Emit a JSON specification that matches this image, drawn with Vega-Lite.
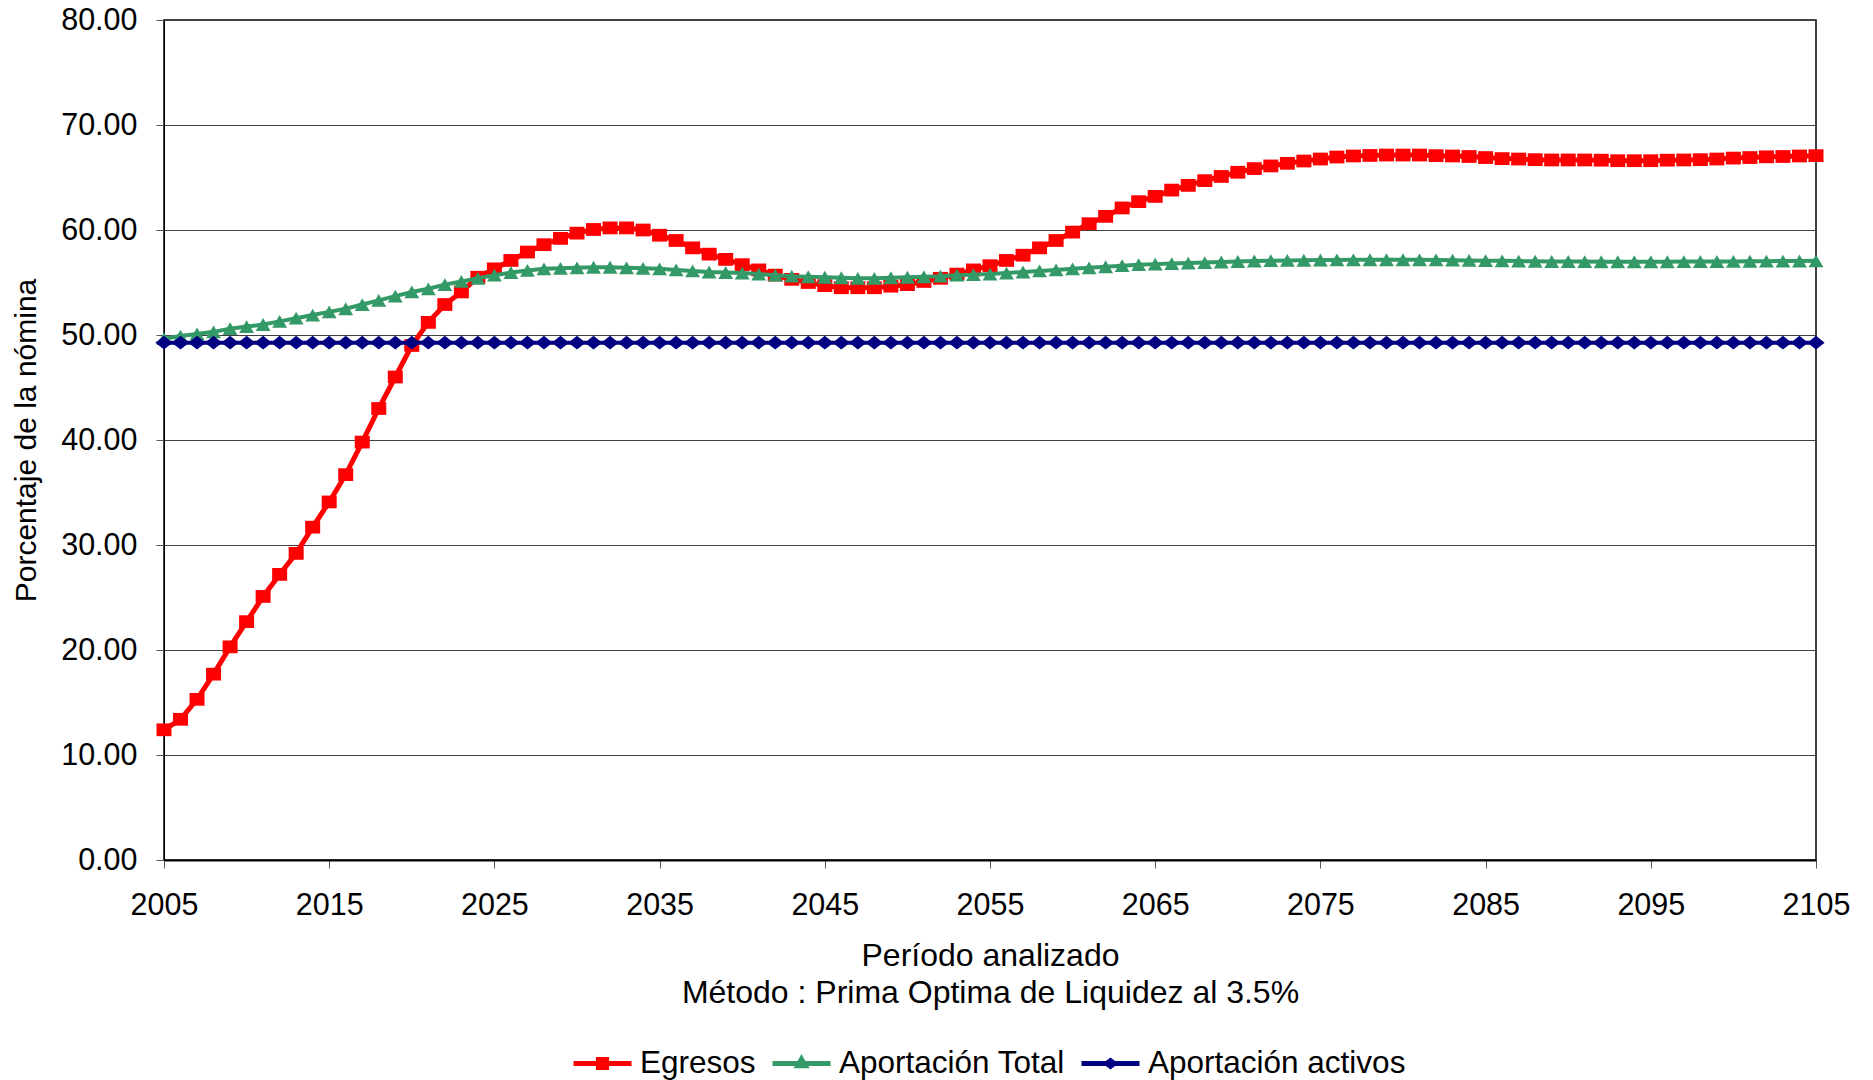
{
"$schema": "https://vega.github.io/schema/vega-lite/v6.json",
"width": 1652, "height": 840,
"autosize": {"type": "none"},
"padding": {"left": 164, "top": 20, "right": 57, "bottom": 220},
"background": "white",
"config": {
 "font": "Liberation Sans",
 "view": {"stroke": "#000000", "strokeWidth": 1.5},
 "axis": {"labelColor": "black", "titleColor": "black", "titleFontWeight": "normal", "domainColor": "black", "tickColor": "#555555", "tickSize": 8}
},
"data": {"values": [
{"year":2005,"egresos":12.4,"total":49.65,"activos":49.27},
{"year":2006,"egresos":13.4,"total":49.9,"activos":49.27},
{"year":2007,"egresos":15.3,"total":50.1,"activos":49.27},
{"year":2008,"egresos":17.7,"total":50.3,"activos":49.27},
{"year":2009,"egresos":20.3,"total":50.6,"activos":49.27},
{"year":2010,"egresos":22.7,"total":50.8,"activos":49.27},
{"year":2011,"egresos":25.1,"total":51.0,"activos":49.27},
{"year":2012,"egresos":27.2,"total":51.3,"activos":49.27},
{"year":2013,"egresos":29.2,"total":51.6,"activos":49.27},
{"year":2014,"egresos":31.7,"total":51.9,"activos":49.27},
{"year":2015,"egresos":34.1,"total":52.2,"activos":49.27},
{"year":2016,"egresos":36.7,"total":52.5,"activos":49.27},
{"year":2017,"egresos":39.8,"total":52.9,"activos":49.27},
{"year":2018,"egresos":43.0,"total":53.3,"activos":49.27},
{"year":2019,"egresos":46.0,"total":53.7,"activos":49.27},
{"year":2020,"egresos":49.0,"total":54.1,"activos":49.27},
{"year":2021,"egresos":51.2,"total":54.4,"activos":49.27},
{"year":2022,"egresos":52.9,"total":54.8,"activos":49.27},
{"year":2023,"egresos":54.1,"total":55.1,"activos":49.27},
{"year":2024,"egresos":55.5,"total":55.4,"activos":49.27},
{"year":2025,"egresos":56.3,"total":55.7,"activos":49.27},
{"year":2026,"egresos":57.1,"total":55.95,"activos":49.27},
{"year":2027,"egresos":57.9,"total":56.15,"activos":49.27},
{"year":2028,"egresos":58.6,"total":56.3,"activos":49.27},
{"year":2029,"egresos":59.2,"total":56.35,"activos":49.27},
{"year":2030,"egresos":59.7,"total":56.4,"activos":49.27},
{"year":2031,"egresos":60.05,"total":56.45,"activos":49.27},
{"year":2032,"egresos":60.2,"total":56.45,"activos":49.27},
{"year":2033,"egresos":60.2,"total":56.4,"activos":49.27},
{"year":2034,"egresos":60.0,"total":56.35,"activos":49.27},
{"year":2035,"egresos":59.5,"total":56.3,"activos":49.27},
{"year":2036,"egresos":59.0,"total":56.2,"activos":49.27},
{"year":2037,"egresos":58.3,"total":56.1,"activos":49.27},
{"year":2038,"egresos":57.7,"total":56.0,"activos":49.27},
{"year":2039,"egresos":57.2,"total":55.95,"activos":49.27},
{"year":2040,"egresos":56.7,"total":55.9,"activos":49.27},
{"year":2041,"egresos":56.2,"total":55.8,"activos":49.27},
{"year":2042,"egresos":55.7,"total":55.7,"activos":49.27},
{"year":2043,"egresos":55.3,"total":55.6,"activos":49.27},
{"year":2044,"egresos":55.0,"total":55.55,"activos":49.27},
{"year":2045,"egresos":54.7,"total":55.5,"activos":49.27},
{"year":2046,"egresos":54.5,"total":55.45,"activos":49.27},
{"year":2047,"egresos":54.5,"total":55.4,"activos":49.27},
{"year":2048,"egresos":54.5,"total":55.4,"activos":49.27},
{"year":2049,"egresos":54.65,"total":55.45,"activos":49.27},
{"year":2050,"egresos":54.8,"total":55.5,"activos":49.27},
{"year":2051,"egresos":55.1,"total":55.55,"activos":49.27},
{"year":2052,"egresos":55.4,"total":55.6,"activos":49.27},
{"year":2053,"egresos":55.8,"total":55.7,"activos":49.27},
{"year":2054,"egresos":56.2,"total":55.75,"activos":49.27},
{"year":2055,"egresos":56.6,"total":55.8,"activos":49.27},
{"year":2056,"egresos":57.1,"total":55.9,"activos":49.27},
{"year":2057,"egresos":57.6,"total":56.0,"activos":49.27},
{"year":2058,"egresos":58.3,"total":56.1,"activos":49.27},
{"year":2059,"egresos":59.0,"total":56.2,"activos":49.27},
{"year":2060,"egresos":59.8,"total":56.3,"activos":49.27},
{"year":2061,"egresos":60.6,"total":56.4,"activos":49.27},
{"year":2062,"egresos":61.3,"total":56.5,"activos":49.27},
{"year":2063,"egresos":62.1,"total":56.6,"activos":49.27},
{"year":2064,"egresos":62.7,"total":56.7,"activos":49.27},
{"year":2065,"egresos":63.2,"total":56.75,"activos":49.27},
{"year":2066,"egresos":63.8,"total":56.8,"activos":49.27},
{"year":2067,"egresos":64.25,"total":56.85,"activos":49.27},
{"year":2068,"egresos":64.7,"total":56.9,"activos":49.27},
{"year":2069,"egresos":65.1,"total":56.95,"activos":49.27},
{"year":2070,"egresos":65.5,"total":57.0,"activos":49.27},
{"year":2071,"egresos":65.85,"total":57.05,"activos":49.27},
{"year":2072,"egresos":66.1,"total":57.08,"activos":49.27},
{"year":2073,"egresos":66.35,"total":57.1,"activos":49.27},
{"year":2074,"egresos":66.57,"total":57.12,"activos":49.27},
{"year":2075,"egresos":66.76,"total":57.14,"activos":49.27},
{"year":2076,"egresos":66.95,"total":57.15,"activos":49.27},
{"year":2077,"egresos":67.05,"total":57.16,"activos":49.27},
{"year":2078,"egresos":67.1,"total":57.17,"activos":49.27},
{"year":2079,"egresos":67.14,"total":57.17,"activos":49.27},
{"year":2080,"egresos":67.14,"total":57.17,"activos":49.27},
{"year":2081,"egresos":67.14,"total":57.16,"activos":49.27},
{"year":2082,"egresos":67.08,"total":57.15,"activos":49.27},
{"year":2083,"egresos":67.05,"total":57.13,"activos":49.27},
{"year":2084,"egresos":67.0,"total":57.1,"activos":49.27},
{"year":2085,"egresos":66.9,"total":57.08,"activos":49.27},
{"year":2086,"egresos":66.8,"total":57.06,"activos":49.27},
{"year":2087,"egresos":66.76,"total":57.04,"activos":49.27},
{"year":2088,"egresos":66.7,"total":57.02,"activos":49.27},
{"year":2089,"egresos":66.67,"total":57.0,"activos":49.27},
{"year":2090,"egresos":66.67,"total":57.0,"activos":49.27},
{"year":2091,"egresos":66.67,"total":56.99,"activos":49.27},
{"year":2092,"egresos":66.65,"total":56.98,"activos":49.27},
{"year":2093,"egresos":66.6,"total":56.98,"activos":49.27},
{"year":2094,"egresos":66.6,"total":56.98,"activos":49.27},
{"year":2095,"egresos":66.6,"total":56.98,"activos":49.27},
{"year":2096,"egresos":66.65,"total":56.98,"activos":49.27},
{"year":2097,"egresos":66.67,"total":56.99,"activos":49.27},
{"year":2098,"egresos":66.7,"total":57.0,"activos":49.27},
{"year":2099,"egresos":66.76,"total":57.0,"activos":49.27},
{"year":2100,"egresos":66.85,"total":57.01,"activos":49.27},
{"year":2101,"egresos":66.9,"total":57.02,"activos":49.27},
{"year":2102,"egresos":66.97,"total":57.03,"activos":49.27},
{"year":2103,"egresos":67.0,"total":57.04,"activos":49.27},
{"year":2104,"egresos":67.05,"total":57.05,"activos":49.27},
{"year":2105,"egresos":67.08,"total":57.06,"activos":49.27}
]},
"transform": [{"fold": ["egresos", "total", "activos"], "as": ["serie", "valor"]}],
"encoding": {
 "x": {"field": "year", "type": "quantitative",
  "scale": {"domain": [2005, 2105], "nice": false, "zero": false},
  "axis": {"values": [2005,2015,2025,2035,2045,2055,2065,2075,2085,2095,2105], "format": "d", "grid": false,
   "labelFontSize": 30.5, "labelPadding": 22, "labelFlush": false, "labelOverlap": false, "domainWidth": 2,
   "title": ["Período analizado", "Método : Prima Optima de Liquidez al 3.5%"],
   "titleFontSize": 32, "titleLineHeight": 37, "titleY": 80, "titleBaseline": "top"}},
 "y": {"field": "valor", "type": "quantitative",
  "scale": {"domain": [0, 80], "nice": false},
  "axis": {"values": [0,10,20,30,40,50,60,70,80], "format": ".2f", "grid": true, "gridColor": "#404040", "gridWidth": 1,
   "labelFontSize": 30.5, "labelPadding": 19, "title": "Porcentaje de la nómina", "titleFontSize": 30, "titlePadding": 19}},
 "color": {"field": "serie", "type": "nominal",
  "scale": {"domain": ["egresos", "total", "activos"], "range": ["#FF0000", "#339966", "#000080"]},
  "legend": {"orient": "none", "legendX": 407, "legendY": 1012, "direction": "horizontal", "title": null, "padding": 0,
   "labelFontSize": 31.5, "labelColor": "black", "labelOffset": 6, "labelLimit": 0, "columnPadding": 6, "symbolSize": 3364,
   "labelExpr": "datum.value == 'egresos' ? 'Egresos' : datum.value == 'total' ? 'Aportación Total' : 'Aportación activos'",
   "encode": {"symbols": {"update": {
     "shape": {"signal": "datum.value == 'egresos' ? 'M-1,0H1M-0.14,-0.14H0.14V0.14H-0.14Z' : datum.value == 'total' ? 'M-1,0H1M0,-0.15L0.13,0.08H-0.13Z' : 'M-1,0H1M-0.13,0L0,-0.1L0.13,0L0,0.1Z'"},
     "stroke": {"signal": "scale('color', datum.value)"},
     "fill": {"signal": "scale('color', datum.value)"},
     "strokeWidth": {"value": 5},
     "opacity": {"value": 1}, "fillOpacity": {"value": 1}, "strokeOpacity": {"value": 1}}}}}}
},
"layer": [
 {"transform": [{"filter": "datum.serie == 'egresos'"}], "mark": {"type": "line", "strokeWidth": 5}},
 {"transform": [{"filter": "datum.serie == 'egresos'"}], "mark": {"type": "point", "shape": "M-1,-0.85H1V0.85H-1Z", "filled": true, "size": 225, "opacity": 1}},
 {"transform": [{"filter": "datum.serie == 'total'"}], "mark": {"type": "line", "strokeWidth": 4}},
 {"transform": [{"filter": "datum.serie == 'total'"}], "mark": {"type": "point", "shape": "triangle-up", "filled": true, "size": 220, "opacity": 1}},
 {"transform": [{"filter": "datum.serie == 'activos'"}], "mark": {"type": "line", "strokeWidth": 4}},
 {"transform": [{"filter": "datum.serie == 'activos'"}], "mark": {"type": "point", "shape": "M-1,0L0,-0.8L1,0L0,0.8Z", "filled": true, "size": 300, "opacity": 1}}
]
}
